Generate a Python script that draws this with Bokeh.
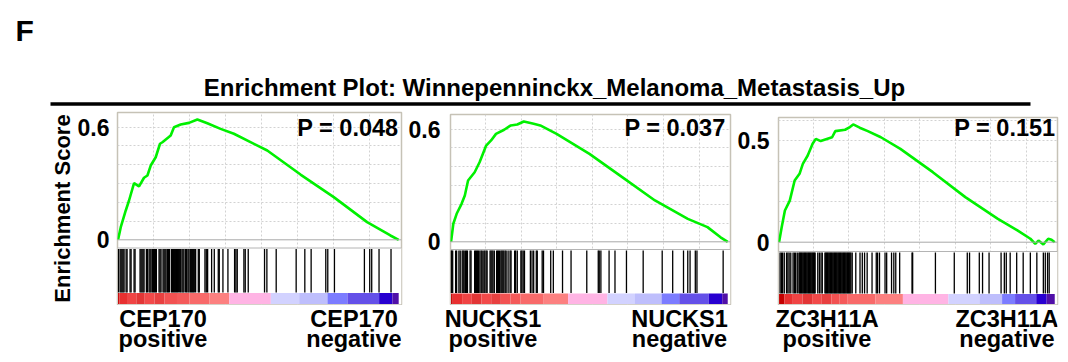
from bokeh.plotting import figure
from bokeh.models import Range1d, FixedTicker, Span, Label, ColumnDataSource, BoxAnnotation
from bokeh.layouts import column, row
from bokeh.embed import file_html
from bokeh.resources import INLINE

FONT = "Liberation Sans"
TITLE = "Enrichment Plot: Winnepenninckx_Melanoma_Metastasis_Up"
PANEL_TAG = "F"
GENES = ["CEP170", "NUCKS1", "ZC3H11A"]
P_VALUES = ["0.048", "0.037", "0.151"]
Y_TICKS = [[0, 0.6], [0, 0.6], [0, 0.5]]
GRID_Y = [0.1, 0.2, 0.3, 0.4, 0.5, 0.6]
GRID_RANKS = [2490, 5065, 7640, 10215, 12790, 15365, 17940]

# running enrichment score curves (rank in ranked list, ES)
ES_RANK_CEP170 = [0, 192, 548, 783, 1139, 1495, 1850, 2092, 2327, 2683, 2989, 3160, 3751, 3986, 4462,
                  5053, 5651, 6363, 7309, 8256, 10633, 13003, 15373, 17750, 19408, 20000]
ES_CEP170 = [0, 0.067, 0.156, 0.209, 0.301, 0.284, 0.330, 0.342, 0.395, 0.439, 0.511, 0.519, 0.555, 0.599,
             0.613, 0.622, 0.640, 0.620, 0.590, 0.564, 0.475, 0.347, 0.227, 0.094, 0.023, 0]

ES_RANK_NUCKS1 = [0, 164, 405, 761, 995, 1230, 1706, 2062, 2538, 2894, 3249, 3839, 4316, 4785, 5261,
                  5972, 6449, 7629, 10004, 12371, 14740, 17114, 18536, 19481, 20000]
ES_NUCKS1 = [0, 0.096, 0.149, 0.202, 0.246, 0.326, 0.370, 0.423, 0.512, 0.539, 0.574, 0.596, 0.619, 0.624,
             0.640, 0.628, 0.619, 0.574, 0.468, 0.344, 0.220, 0.122, 0.078, 0.024, 0]

ES_RANK_ZC3H11A = [0, 191, 425, 778, 1132, 1486, 1726, 2080, 2434, 2667, 3021, 3849, 4082, 4790, 5143,
                   5377, 5851, 6438, 7386, 8801, 11157, 13513, 15876, 17291, 18232, 18586, 18820, 19173,
                   19527, 19767, 20000]
ES_ZC3H11A = [0, 0.074, 0.156, 0.205, 0.304, 0.337, 0.386, 0.427, 0.485, 0.509, 0.498, 0.517, 0.547, 0.554,
              0.567, 0.580, 0.564, 0.547, 0.517, 0.460, 0.345, 0.222, 0.115, 0.058, 0.017, -0.008, 0.008,
              -0.011, 0.017, 0.012, 0]

# gene-set hit positions (ranks)
HITS_CEP170 = [26, 145, 216, 287, 358, 429, 572, 643, 856, 928, 1141, 1212, 1568, 1639, 1710, 1782, 1853,
               2019, 2090, 2208, 2280, 2351, 2446, 2517, 2588, 2659, 2730, 2920, 2991, 3062, 3205, 3276,
               3347, 3418, 3513, 3584, 3655, 3798, 3869, 3940, 4011, 4082, 4154, 4225, 4296, 4391, 4462,
               4557, 4628, 4699, 4818, 4889, 4984, 5055, 5150, 5221, 5292, 5363, 5434, 5529, 5719, 5790,
               6193, 6288, 6383, 6668, 6858, 7142, 7213, 7474, 7830, 8305, 8399, 8494, 8969, 9064, 9277,
               10439, 10606, 11270, 12693, 13310, 13760, 14804, 14946, 15421, 17556, 17935, 18077, 18599,
               19453]
HITS_NUCKS1 = [5, 47, 118, 331, 403, 568, 663, 805, 877, 948, 1042, 1114, 1185, 1374, 1445, 1706, 1777,
               1848, 1919, 1990, 2085, 2180, 2251, 2370, 2441, 2536, 2607, 2820, 2891, 2962, 3033, 3128,
               3294, 3365, 3436, 3507, 3602, 3673, 3744, 3815, 3910, 3981, 4123, 4266, 4337, 4597, 4669,
               4787, 5048, 5119, 5214, 5308, 5735, 5854, 5972, 6162, 6233, 6588, 6683, 7204, 7393, 8058,
               8674, 9811, 10641, 10712, 10831, 11423, 11850, 12680, 13888, 15263, 16021, 16803, 17111,
               17277, 17656, 17775, 19669]
HITS_ZC3H11A = [73, 167, 261, 379, 544, 639, 733, 851, 1016, 1110, 1205, 1323, 1440, 1499, 1558, 1617,
                1676, 1735, 1794, 1853, 1912, 1971, 2030, 2089, 2148, 2207, 2266, 2325, 2384, 2443, 2502,
                2561, 2619, 2808, 2926, 3044, 3138, 3327, 3386, 3445, 3504, 3563, 3622, 3681, 3740, 3798,
                3857, 3916, 3975, 4034, 4093, 4152, 4211, 4270, 4329, 4388, 4447, 4506, 4565, 4624, 4683,
                4742, 4801, 4860, 4919, 4977, 5036, 5095, 5154, 5213, 5308, 5567, 5873, 6039, 6204, 6392,
                6746, 7052, 7147, 7288, 7689, 7807, 8161, 8326, 8467, 8750, 9646, 9693, 11344, 12712,
                13655, 13820, 14527, 14763, 15235, 16107, 16343, 16484, 16767, 17239, 17711, 18230, 18701,
                19173, 19314, 19479, 19597]

# ranked-list metric colour bar: segment edges (ranks) and colours
CB_EDGES_CEP170 = [0, 100, 700, 1300, 1900, 2600, 3300, 4200, 5082, 6500, 7928, 10889, 12910, 14924,
                   16348, 18604, 19551, 20000]
CB_EDGES_NUCKS1 = [0, 121, 800, 1500, 2200, 2900, 3600, 4300, 5027, 6700, 8461, 11305, 13296, 15215,
                   16495, 18628, 19602, 20000]
CB_EDGES_ZC3H11A = [0, 382, 1000, 1700, 2400, 3100, 3800, 4400, 4981, 7000, 8985, 12289, 14532, 16180,
                    17122, 18657, 19414, 20000]
CB_COLORS = ["#c40000", "#e83030", "#f04444", "#e23636", "#f24a4a", "#e84040", "#f25252", "#f45a5a",
             "#f86a6a", "#fc8080", "#ffb4e4", "#d2d2ff", "#bebefc", "#7c7cff", "#6450e8", "#2800d0",
             "#5010a8"]

HEADER_H = 107
PANEL_BOTTOM = 305
PANEL_H = PANEL_BOTTOM - HEADER_H
LABEL_H = 362 - PANEL_BOTTOM
X_START, X_END = -40, 20200
TXT = dict(text_font=FONT, text_font_style="bold", text_color="black", text_baseline="alphabetic")
SHIFT = 8.5  # renderer places the alphabetic baseline this many px lower than requested


def make_panel(i, es_rank, es_val, hits, cb_edges, width, b_left, b_right, frame_top, zero_px, scale,
               sep_px, hit_top, hit_bot, cb_top, frame_bot, p_x, ylabel=None):
    def y(px):
        return (zero_px - px) / scale

    p = figure(width=width, height=PANEL_H, output_backend="svg", toolbar_location=None,
               x_range=Range1d(X_START, X_END), y_range=Range1d(y(frame_bot), y(frame_top)),
               x_axis_location=None, frame_align=False,
               min_border_left=b_left, min_border_right=b_right,
               min_border_top=frame_top - HEADER_H,
               min_border_bottom=PANEL_BOTTOM - frame_bot,
               background_fill_color="white", border_fill_color="white",
               outline_line_color="#c6c2b6", outline_line_width=1.5)

    ax = p.yaxis[0]
    ax.ticker = FixedTicker(ticks=Y_TICKS[i])
    ax.axis_line_color = None
    ax.major_tick_line_color = None
    ax.minor_tick_line_color = None
    ax.major_label_standoff = 2 if i == 0 else (4 if i == 1 else 3)
    ax.major_label_text_font = FONT
    ax.major_label_text_font_style = "bold"
    ax.major_label_text_font_size = "23px"
    ax.major_label_text_color = "black"
    if ylabel:
        ax.axis_label = ylabel
        ax.axis_label_text_font = FONT
        ax.axis_label_text_font_style = "bold"
        ax.axis_label_text_font_size = "22px"
        ax.axis_label_text_color = "black"
        ax.axis_label_standoff = 0

    p.xgrid.ticker = FixedTicker(ticks=GRID_RANKS)
    p.ygrid.ticker = FixedTicker(ticks=GRID_Y)
    for g in (p.xgrid[0], p.ygrid[0]):
        g.grid_line_color = "#d2d2d2"
        g.grid_line_dash = "2 2"
        g.grid_line_width = 1

    p.add_layout(Span(location=0, dimension="width", line_color="#a8a8a8", line_width=1))

    # white band that holds hits and colour bar
    p.quad(left=[X_START], right=[X_END], top=[y(sep_px)], bottom=[y(frame_bot)],
           fill_color="white", line_color=None)
    p.add_layout(Span(location=y(sep_px), dimension="width", line_color="#b4b4b4", line_width=1))

    # enrichment score curve
    p.line(es_rank, es_val, line_color="#00f000", line_width=2.6)

    # hits
    src = ColumnDataSource(dict(r=hits))
    p.segment(x0="r", x1="r", y0=y(hit_bot), y1=y(hit_top), source=src,
              line_color="black", line_width=1.3)

    # colour bar
    p.quad(left=cb_edges[:-1], right=cb_edges[1:], top=y(cb_top), bottom=y(frame_bot - 0.5),
           fill_color=CB_COLORS, line_color=None)

    p.add_layout(Label(x=p_x, y=y(135.5 - SHIFT), text="P = " + P_VALUES[i], text_align="right",
                       text_font_size="23.5px", **TXT))
    return p


def make_labels(i, width, b_left, b_right, left_x, right_x):
    q = figure(width=width, height=LABEL_H, output_backend="svg", toolbar_location=None,
               x_range=Range1d(X_START, X_END), y_range=Range1d(362, PANEL_BOTTOM),
               x_axis_location=None, y_axis_location=None, frame_align=False,
               min_border_left=b_left, min_border_right=b_right, min_border_top=0, min_border_bottom=0,
               outline_line_color=None, background_fill_color="white", border_fill_color="white")
    q.xgrid.visible = False
    q.ygrid.visible = False
    for x, word in ((left_x, "positive"), (right_x, "negative")):
        q.add_layout(Label(x=x, y=327 - SHIFT, text=GENES[i], text_align="center",
                           text_font_size="23.5px", **TXT))
        q.add_layout(Label(x=x, y=347 - SHIFT, text=word, text_align="center",
                           text_font_size="23.5px", **TXT))
    return q


p1 = make_panel(0, ES_RANK_CEP170, ES_CEP170, HITS_CEP170, CB_EDGES_CEP170,
                width=405, b_left=117, b_right=4, frame_top=112, zero_px=239.3, scale=188,
                sep_px=247.5, hit_top=248.5, hit_bot=292, cb_top=292.5, frame_bot=304,
                p_x=19990, ylabel="Enrichment Score")
p2 = make_panel(1, ES_RANK_NUCKS1, ES_NUCKS1, HITS_NUCKS1, CB_EDGES_NUCKS1,
                width=329, b_left=40, b_right=4, frame_top=114, zero_px=241.3, scale=188,
                sep_px=249, hit_top=250, hit_bot=292.5, cb_top=293, frame_bot=304,
                p_x=19850)
p3 = make_panel(2, ES_RANK_ZC3H11A, ES_ZC3H11A, HITS_ZC3H11A, CB_EDGES_ZC3H11A,
                width=334, b_left=38, b_right=11, frame_top=117, zero_px=241.7, scale=203,
                sep_px=251, hit_top=252, hit_bot=293, cb_top=293.5, frame_bot=304,
                p_x=20060)

l1 = make_labels(0, 405, 117, 4, 3203, 16815)
l2 = make_labels(1, 329, 40, 4, 3333, 16579)
l3 = make_labels(2, 334, 38, 11, 3831, 16614)

hdr = figure(width=1068, height=HEADER_H, output_backend="svg", toolbar_location=None,
             x_range=Range1d(0, 1068), y_range=Range1d(HEADER_H, 0),
             x_axis_location=None, y_axis_location=None, frame_align=False,
             min_border_left=0, min_border_right=0, min_border_top=0, min_border_bottom=0,
             outline_line_color=None, background_fill_color="white", border_fill_color="white")
hdr.xgrid.visible = False
hdr.ygrid.visible = False
hdr.add_layout(BoxAnnotation(left=50, right=1030, top=101.8, bottom=105.2, fill_color="black",
                             fill_alpha=1, line_color=None))
hdr.add_layout(Label(x=15, y=40 - 10.5, text=PANEL_TAG, text_font_size="30px", **TXT))
hdr.add_layout(Label(x=554, y=95 - SHIFT, text=TITLE, text_align="center", text_font_size="24px", **TXT))

root = column(hdr, row(p1, p2, p3), row(l1, l2, l3))
open("out.html", "w").write(file_html(root, INLINE))
